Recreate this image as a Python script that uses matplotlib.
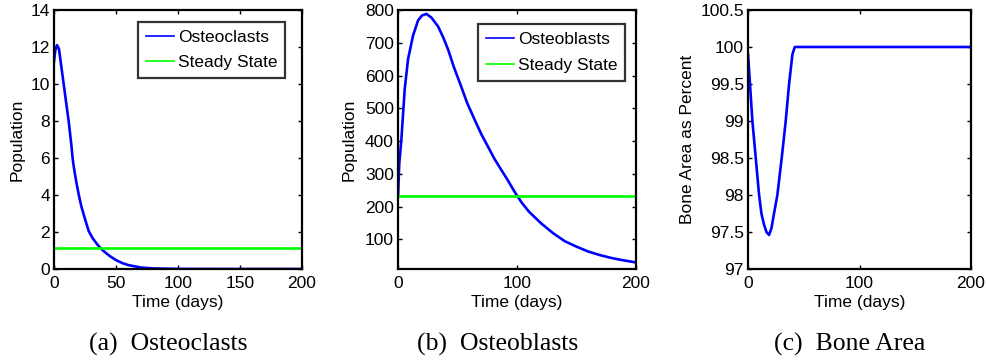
import matplotlib.pyplot as plt
from matplotlib.ticker import FormatStrFormatter

plt.rcParams['font.family'] = ['Liberation Sans', 'DejaVu Sans']

#%% data
# (a) osteoclasts
clastT = [0, 1, 2.4, 4, 6, 7.8, 10, 12, 14, 15, 16, 18, 20, 22, 25, 28, 31,
          35, 38, 40, 45, 50, 55, 60, 70, 80, 100, 150, 200]
clastPop = [11.2, 11.8, 12.1, 11.9, 10.9, 10.0, 8.9, 7.9, 6.7, 6.0, 5.5, 4.7,
            4.0, 3.4, 2.7, 2.05, 1.68, 1.32, 1.1, 0.97, 0.7, 0.48, 0.32, 0.21,
            0.08, 0.03, 0.005, 0.0, 0.0]
clastSteady = 1.15

# (b) osteoblasts
blastT = [0, 1, 2.8, 5.6, 8.4, 12.6, 16.8, 20, 23.8, 28, 33.6, 38, 42, 47, 53,
          58, 64.4, 70, 75.6, 81, 86.8, 92, 98, 104, 110, 120, 130, 140, 150,
          160, 170, 180, 190, 200]
blastPop = [232, 330, 406, 559, 650, 722, 768, 783, 788, 777, 750, 716, 680,
            625, 567, 517, 465, 421, 383, 346, 312, 282, 245, 212, 185, 150,
            120, 95, 78, 63, 52, 43, 36, 30]
blastSteady = 232

# (c) bone area
boneT = [0, 2, 3.9, 6.9, 9.9, 12, 14.3, 16.5, 18.8, 21, 23.3, 26.3, 30.2,
         33.8, 36.8, 39.8, 41.9, 100, 200]
boneArea = [99.9, 99.44, 99.0, 98.5, 98.0, 97.75, 97.6, 97.5, 97.46, 97.55,
            97.75, 98.0, 98.5, 99.0, 99.5, 99.9, 100, 100, 100]

captions = ['(a)  Osteoclasts', '(b)  Osteoblasts', '(c)  Bone Area']

#%% plotting
fig = plt.figure(figsize=(9.87, 3.63), dpi=100)

ax = fig.add_axes([0.0547, 0.259, 0.2513, 0.7135])
ax2 = fig.add_axes([0.4033, 0.259, 0.2411, 0.7135])
ax3 = fig.add_axes([0.7579, 0.259, 0.2259, 0.7135])

blue = (0, 0, 1)
green = (0, 1, 0)
lw = 1.9
fs = 12.5

ax.plot(clastT, clastPop, color=blue, lw=lw, label='Osteoclasts')
ax.plot([0, 200], [clastSteady, clastSteady], color=green, lw=lw,
        label='Steady State')
ax.set_xlim(0, 200)
ax.set_ylim(0, 14)
ax.set_xticks([0, 50, 100, 150, 200])
ax.set_yticks(range(0, 15, 2))
ax.set_ylabel('Population', labelpad=4)

ax2.plot(blastT, blastPop, color=blue, lw=lw, label='Osteoblasts')
ax2.plot([0, 200], [blastSteady, blastSteady], color=green, lw=lw,
         label='Steady State')
ax2.set_xlim(0, 200)
ax2.set_ylim(10, 800)
ax2.set_xticks([0, 100, 200])
ax2.set_yticks(range(100, 801, 100))
ax2.set_ylabel('Population', labelpad=6)

ax3.plot(boneT, boneArea, color=blue, lw=lw)
ax3.set_xlim(0, 200)
ax3.set_ylim(97, 100.5)
ax3.set_xticks([0, 100, 200])
ax3.set_yticks([97, 97.5, 98, 98.5, 99, 99.5, 100, 100.5])
ax3.yaxis.set_major_formatter(FormatStrFormatter('%g'))
ax3.set_ylabel('Bone Area as Percent', labelpad=4)

for a in [ax, ax2, ax3]:
    a.set_xlabel('Time (days)', fontsize=fs, labelpad=3)
    a.yaxis.label.set_size(fs)
    a.tick_params(direction='in', top=True, right=True, length=3, width=1,
                  labelsize=fs)
    a.tick_params(axis='x', pad=5)
    a.tick_params(axis='y', pad=3)
    for s in a.spines.values():
        s.set_linewidth(1.6)

legAnchor = [(0.9315, 0.955), (0.954, 0.945)]
for i, a in enumerate([ax, ax2]):
    leg = a.legend(loc='upper right', bbox_to_anchor=legAnchor[i],
                   borderaxespad=0, fontsize=fs, fancybox=False,
                   handlelength=1.65, labelspacing=0.6, borderpad=0.45,
                   handletextpad=0.2)
    leg.get_frame().set_edgecolor('black')
    leg.get_frame().set_linewidth(1.6)
    for h in leg.get_lines():
        h.set_linewidth(1.2)

capX = [0.170, 0.504, 0.861]
for i in range(3):
    fig.text(capX[i], 0.052, captions[i], ha='center', va='center',
             fontsize=18.5, family='Liberation Serif')

fig.savefig('out.png', dpi=100)
